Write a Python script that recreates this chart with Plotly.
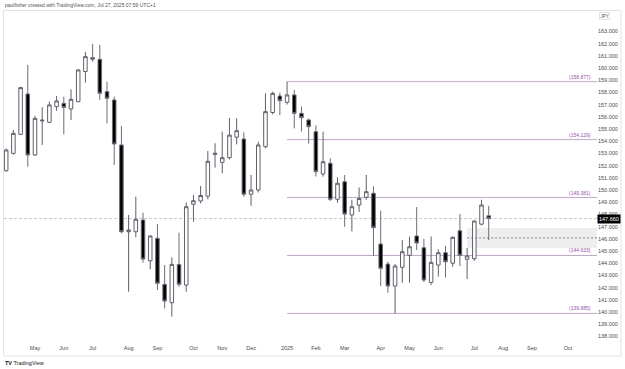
import pandas as pd
import plotly.graph_objects as go

# ---- data (weekly USD/JPY candles) ----
week_start = "2024-04-08"
opens = [151.58, 153.00, 154.56, 157.87, 152.87, 155.66, 155.55, 156.83, 157.10, 156.64,
         157.24, 159.71, 160.85, 160.71, 158.06, 157.38, 153.69, 146.58, 146.58, 147.54,
         144.20, 146.04, 142.27, 140.76, 143.90, 142.21, 148.83, 149.10, 149.50, 152.92,
         152.27, 152.65, 154.33, 154.18, 149.65, 150.00, 153.55, 156.35, 157.70, 157.19,
         157.79, 156.28, 155.74, 154.78, 151.31, 152.19, 149.24, 150.68, 147.95, 148.77,
         149.40, 149.73, 145.57, 143.93, 142.13, 143.66, 144.65, 146.23, 145.27, 142.43,
         143.85, 144.86, 144.00, 146.66, 144.32, 144.37, 147.20, 147.89]
highs = [153.40, 154.92, 158.45, 160.25, 156.07, 156.78, 157.24, 157.70, 157.65, 158.25,
         159.90, 161.33, 161.97, 161.89, 158.88, 157.65, 155.25, 147.95, 149.45, 148.14,
         146.30, 147.20, 143.85, 144.48, 146.50, 148.99, 149.59, 150.33, 153.20, 153.83,
         154.78, 155.90, 155.87, 154.73, 151.23, 153.96, 157.92, 158.06, 157.98, 158.877,
         158.20, 156.83, 155.87, 155.30, 154.78, 152.60, 151.04, 151.23, 149.20, 150.20,
         151.23, 150.30, 148.30, 144.13, 143.93, 145.90, 146.17, 148.60, 146.00, 146.20,
         145.14, 145.43, 146.20, 148.03, 145.25, 147.50, 149.20, 148.70]
lows = [151.50, 152.90, 154.50, 151.91, 152.80, 153.69, 155.50, 156.50, 154.56, 155.74,
        157.20, 158.80, 160.50, 157.38, 155.46, 152.05, 146.45, 141.66, 146.12, 144.04,
        143.50, 141.80, 140.30, 139.62, 142.07, 141.66, 147.40, 148.90, 149.24, 151.83,
        151.37, 152.50, 153.74, 149.45, 148.71, 149.80, 153.42, 156.20, 156.15, 157.00,
        155.05, 154.78, 153.80, 151.10, 151.09, 149.10, 148.96, 146.99, 146.60, 148.20,
        149.20, 144.59, 142.13, 141.58, 139.885, 142.40, 142.40, 145.08, 142.46, 142.20,
        142.90, 142.84, 143.70, 143.77, 142.70, 144.20, 147.10, 145.90]
closes = [153.28, 154.64, 158.39, 152.87, 155.87, 155.72, 156.97, 157.30, 156.76, 157.43,
          159.84, 160.93, 160.72, 157.92, 157.51, 153.77, 146.58, 146.72, 147.60, 144.34,
          146.23, 142.35, 140.90, 143.90, 142.27, 148.63, 149.12, 149.55, 152.35, 153.00,
          152.65, 154.50, 154.86, 149.65, 150.00, 153.69, 156.42, 157.92, 157.32, 157.79,
          156.28, 155.93, 155.19, 151.50, 152.32, 149.24, 150.55, 148.03, 148.63, 149.30,
          149.86, 146.91, 143.58, 142.13, 143.77, 144.94, 145.35, 145.66, 142.62, 144.07,
          144.86, 144.12, 146.12, 144.65, 144.59, 147.46, 148.77, 147.66]
dates = pd.date_range(week_start, periods=len(opens), freq="7D")

tick_dates = ["2024-05-06", "2024-06-03", "2024-07-01", "2024-08-05", "2024-09-02",
              "2024-10-07", "2024-11-04", "2024-12-02", "2025-01-06", "2025-02-03",
              "2025-03-03", "2025-04-07", "2025-05-05", "2025-06-02", "2025-07-07",
              "2025-08-04", "2025-09-01", "2025-10-06"]
tick_labels = ["May", "Jun", "Jul", "Aug", "Sep", "Oct", "Nov", "Dec", "2025", "Feb",
               "Mar", "Apr", "May", "Jun", "Jul", "Aug", "Sep", "Oct"]

level_values = [158.877, 154.129, 149.381, 144.633, 139.885]
level_start = "2025-01-06"
zone_low, zone_high, zone_mid = 145.25, 146.89, 146.07
zone_start = "2025-06-30"
last_price = 147.66
y_ticks = list(range(136, 164))

# ---- layout geometry ----
W, H = 625, 369
L, R, T, B = 4, 597, 11, 343
x_range = ["2024-04-05 21:00", "2025-11-03 06:00"]
y_range = [137.46, 164.67]

def px(x):
    return (x - L) / (R - L)

def py(y):
    return (B - y) / (B - T)

FONT = "Liberation Sans, Arial, sans-serif"
TXT = "#4a4a4a"

fig = go.Figure()
fig.add_trace(go.Candlestick(
    x=dates, open=opens, high=highs, low=lows, close=closes,
    increasing=dict(fillcolor="#ffffff", line=dict(color="#5d606b", width=1)),
    decreasing=dict(fillcolor="#000000", line=dict(color="#6b6e78", width=1)),
    whiskerwidth=0, showlegend=False, hoverinfo="skip",
))

shapes = []
# frame
shapes.append(dict(type="rect", xref="paper", yref="paper",
                   x0=px(3.5), x1=px(621), y0=py(356), y1=py(10.5),
                   line=dict(color="#e0e3eb", width=1), fillcolor="rgba(0,0,0,0)", layer="below"))
# zone
shapes.append(dict(type="rect", xref="x", yref="y", x0=zone_start, x1=x_range[1],
                   y0=zone_low, y1=zone_high, fillcolor="rgba(120,123,134,0.13)",
                   line=dict(width=0), layer="below"))
shapes.append(dict(type="line", xref="x", yref="y", x0=zone_start, x1=x_range[1],
                   y0=zone_mid, y1=zone_mid,
                   line=dict(color="#6b6e78", width=0.8, dash="2px,2px")))
# current price line
shapes.append(dict(type="line", xref="paper", yref="y", x0=0, x1=1,
                   y0=last_price, y1=last_price,
                   line=dict(color="#b8bbc2", width=0.8, dash="3px,2px"), layer="below"))
# levels
for v in level_values:
    shapes.append(dict(type="line", xref="x", yref="y", x0=level_start, x1=x_range[1],
                       y0=v, y1=v, line=dict(color="#c9a2d8", width=1), layer="below"))

annotations = []
for v in level_values:
    annotations.append(dict(xref="paper", yref="y", x=px(593), y=v, xanchor="right",
                            yanchor="bottom", text=f"({v:.3f})", showarrow=False,
                            font=dict(family=FONT, size=5, color="#a04dbb"), yshift=0))
annotations.append(dict(xref="paper", yref="y", x=1.0, y=last_price, xanchor="left",
                        yanchor="middle", text=f"{last_price:.3f}", showarrow=False,
                        bgcolor="#000000", borderpad=1,
                        font=dict(family=FONT, size=5.5, color="#ffffff")))
annotations.append(dict(xref="paper", yref="paper", x=px(599), y=py(16.5), xanchor="left",
                        yanchor="middle", text="JPY", showarrow=False,
                        bordercolor="#d1d4dc", borderwidth=0.6, borderpad=1,
                        font=dict(family=FONT, size=4.5, color="#555555")))
annotations.append(dict(xref="paper", yref="paper", x=px(3), y=py(5), xanchor="left",
                        yanchor="middle",
                        text="paulfisher created with TradingView.com, Jul 27, 2025 07:59 UTC+1",
                        showarrow=False, font=dict(family=FONT, size=5, color="#555555")))
annotations.append(dict(xref="paper", yref="paper", x=px(3), y=py(363), xanchor="left",
                        yanchor="middle", text="<b>TV</b> TradingView",
                        showarrow=False, font=dict(family=FONT, size=5.5, color="#131722")))

fig.update_layout(
    width=W, height=H, margin=dict(l=L, r=W - R, t=T, b=H - B),
    paper_bgcolor="#ffffff", plot_bgcolor="#ffffff",
    shapes=shapes, annotations=annotations, showlegend=False,
    xaxis=dict(type="date", range=x_range, rangeslider=dict(visible=False),
               tickvals=tick_dates, ticktext=tick_labels, showgrid=False,
               zeroline=False, showline=False, ticks="",
               tickfont=dict(family=FONT, size=5.5, color=TXT), fixedrange=True),
    yaxis=dict(range=y_range, side="right", tickvals=y_ticks,
               ticktext=[f"{v:.3f}" for v in y_ticks], showgrid=False,
               zeroline=False, showline=False, ticks="",
               tickfont=dict(family=FONT, size=5.5, color=TXT), fixedrange=True),
)

fig.write_html("out.html")
